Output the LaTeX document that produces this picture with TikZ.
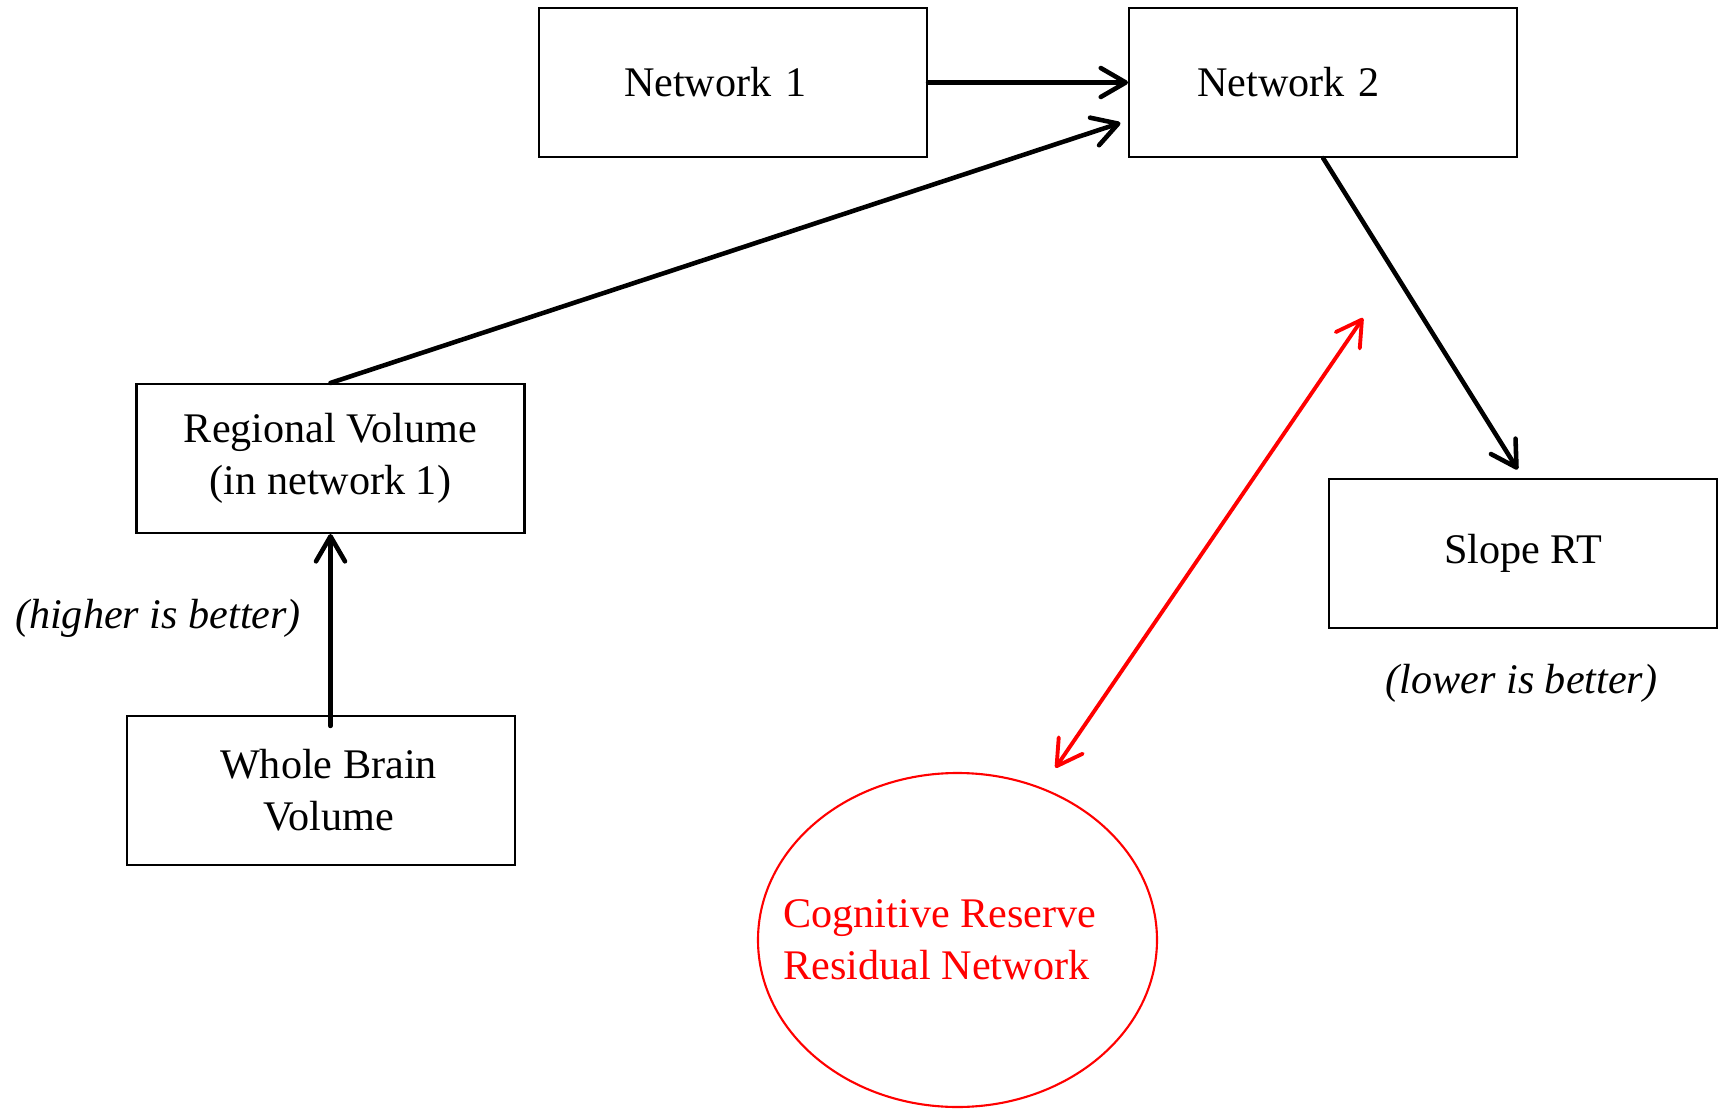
\documentclass[tikz,border=0pt]{standalone}
\usepackage{fontspec}
\setmainfont{Liberation Serif}
\usetikzlibrary{shapes.geometric, arrows.meta, positioning}
\tikzstyle{measure} = [rectangle, minimum width=3.88cm, minimum height=1.49cm, text centered, align=center, draw=black, line width=0.6pt]
\tikzstyle{network} = [rectangle, minimum height=1.49cm, text width=3.88cm, inner xsep=0pt, align=left, draw=black, line width=0.6pt]
\tikzstyle{reserve} = [ellipse, minimum width=3.99cm, minimum height=3.34cm, inner sep=0pt, draw=red, text=red, line width=0.6pt]
\tikzstyle{note} = [font=\fontsize{12}{14.7}\selectfont\itshape]
\tikzstyle{arrow} = [line width=1.3pt, line cap=round, -{Straight Barb[length=2.5mm,width=2.9mm,round]}]
\tikzstyle{redarrow} = [red, line width=1.1pt, line cap=round, {Straight Barb[length=2.5mm,width=2.9mm,round]}-{Straight Barb[length=2.5mm,width=2.9mm,round]}]
\begin{document}
\begin{tikzpicture}[font=\fontsize{12}{14.7}\selectfont]
\useasboundingbox (0,0) rectangle (17.19,-11.11);

\node (net1) [network] at (7.33,-0.825) {\hspace*{0.85cm}Network 1};
\node (net2) [network, right=2cm of net1] {\hspace*{0.68cm}Network 2};

\node (reg) [measure] at (3.305,-4.585) {Regional Volume\\(in network 1)};
\node (whole) [measure] at (3.21,-7.905) {\hspace*{0.15cm}Whole Brain\\\hspace*{0.15cm}Volume};
\node (slope) [measure] at (15.23,-5.535) {Slope RT};

\node (higher) [note] at (1.58,-6.18) {(higher is better)};
\node (lower) [note] at (15.215,-6.83) {(lower is better)};

% text kept in a narrow box so the ellipse keeps its own size
\node (cr) [reserve] at (9.575,-9.40) {\makebox[2.4cm][c]{\parbox{3.2cm}{Cognitive Reserve\\Residual Network}}\hspace*{0.28cm}};
\coordinate (crtip) at (13.63,-3.18);

\draw [arrow] (net1) -- (net2);
\draw [arrow, shorten >=0.08cm] (reg.north) -- (net2.191.8);
\draw [arrow, shorten >=0.1cm] (net2.south) -- (slope.north);
\draw [arrow, shorten <=-0.11cm] (whole.north -| reg.south) -- (reg.south);
\draw [redarrow, shorten >=0.24cm] (crtip) -- (cr.61);
\end{tikzpicture}
\end{document}
